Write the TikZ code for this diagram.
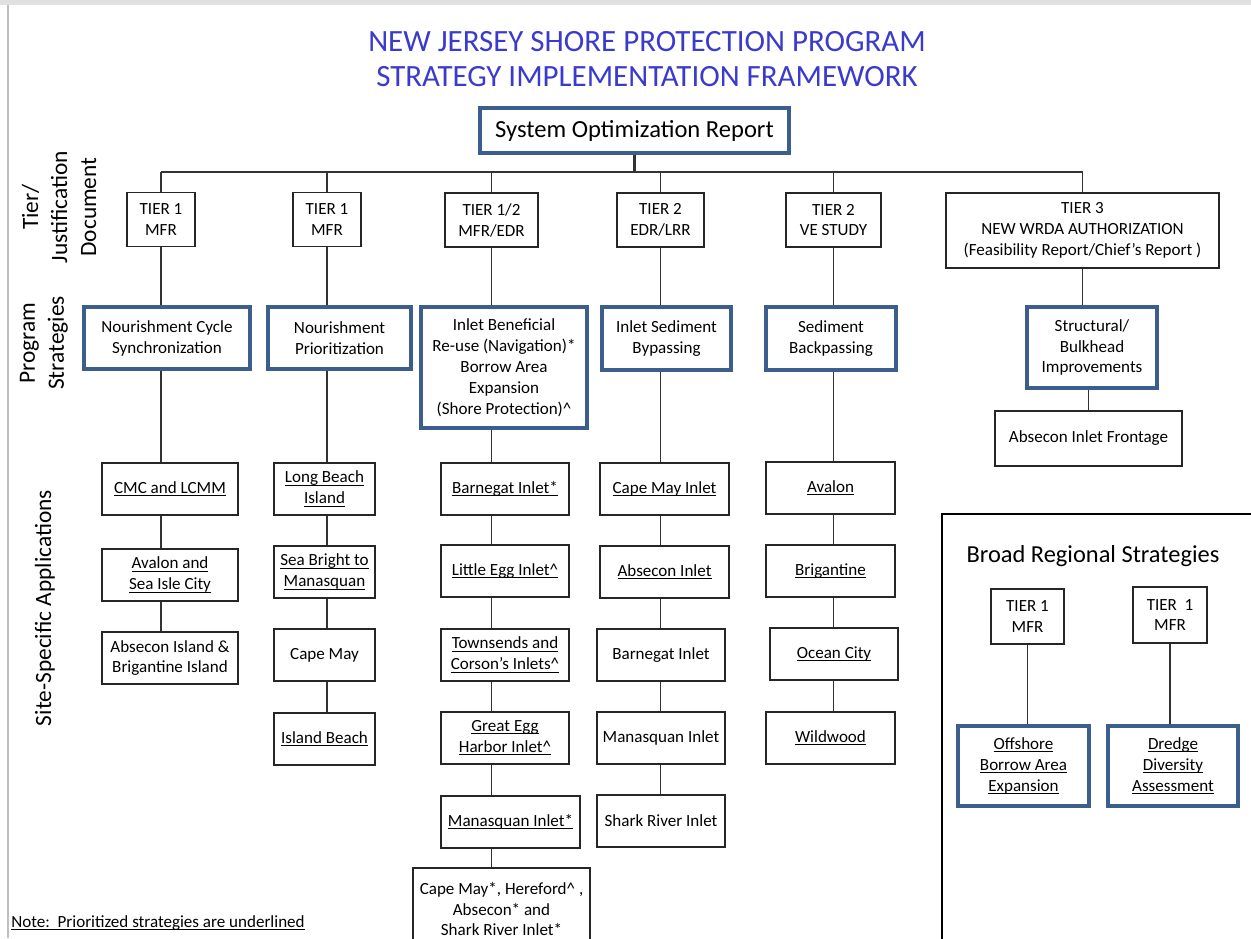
\documentclass[tikz,border=0pt]{standalone}
\usepackage{fontspec}
\setmainfont{Carlito}
\usetikzlibrary{positioning,calc}

\definecolor{titleblue}{RGB}{58,58,204}
\definecolor{stratblue}{RGB}{59,94,140}
\newcommand{\boxfont}{\fontsize{9.7}{11.9}\selectfont}
\newcommand{\titlefont}{\fontsize{17.6}{20.4}\selectfont}
\newcommand{\sorfont}{\fontsize{14}{16}\selectfont}
\newcommand{\sidefont}{\fontsize{13.3}{16.5}\selectfont}
\newcommand{\broadfont}{\fontsize{13.9}{16}\selectfont}
\newcommand{\notefont}{\fontsize{9.7}{11}\selectfont}
% prioritized strategies are underlined
\newcommand{\prio}[1]{\underline{\raisebox{0pt}[\height][0pt]{#1}}}

\begin{document}
\begin{tikzpicture}[
    x=0.02cm, y=-0.02cm,
    font=\boxfont,
    tierbox/.style={draw=black!85, line width=0.75pt, fill=white, align=center, inner sep=2pt, minimum height=1.08cm},
    stratbox/.style={draw=stratblue, line width=2.2pt, fill=white, align=center, inner sep=2pt},
    sitebox/.style={draw=black!85, line width=0.75pt, fill=white, align=center, inner sep=2pt, minimum height=1.04cm},
    sidelabel/.style={rotate=90, align=center, font=\sidefont},
    link/.style={draw=black!80, line width=0.75pt}
]
    \useasboundingbox (0,0) rectangle (1251,938);
    \fill[black!12] (0,0) rectangle (1251,5);
    \draw[black!25, line width=0.8pt] (8,5) -- (8,938);

    % Title
    \node[font=\titlefont, text=titleblue, align=center] (title) at (647,59)
        {NEW JERSEY SHORE PROTECTION PROGRAM\\STRATEGY IMPLEMENTATION FRAMEWORK};
    \node[stratbox, font=\sorfont, minimum width=6.18cm, minimum height=0.9cm] (sor) at (634.5,130.5)
        {System Optimization Report};

    % Side labels
    \node[sidelabel] (lbltier) at (59,207) {Tier/\\Justification\\Document};
    \node[sidelabel] (lblprog) at (44,343) {Program\\Strategies};
    \node[sidelabel] (lblsite) at (45,608) {Site-Specific Applications};

    % Tier / justification documents
    \node[tierbox, minimum width=1.36cm] (t1) at (161,219.5) {TIER 1\\MFR};
    \node[tierbox, minimum width=1.36cm] (t2) at (327,219.5) {TIER 1\\MFR};
    \node[tierbox, minimum width=1.86cm] (t3) at (491.5,220) {TIER 1/2\\MFR/EDR};
    \node[tierbox, minimum width=1.74cm] (t4) at (660.5,220) {TIER 2\\EDR/LRR};
    \node[tierbox, minimum width=1.90cm] (t5) at (833.5,220) {TIER 2\\VE STUDY};
    \node[tierbox, minimum width=5.46cm, minimum height=1.5cm] (t6) at (1082.5,230.5)
        {TIER 3\\NEW WRDA AUTHORIZATION\\(Feasibility Report/Chief’s Report )};

    % Program strategies
    \node[stratbox, minimum width=3.32cm, minimum height=1.24cm] (s1) at (167,338) {Nourishment Cycle\\Synchronization};
    \node[stratbox, minimum width=2.86cm, minimum height=1.24cm] (s2) at (339.5,338) {Nourishment\\Prioritization};
    \node[stratbox, minimum width=3.32cm, minimum height=2.42cm] (s3) at (504,367.5)
        {Inlet Beneficial\\Re-use (Navigation)*\\Borrow Area\\Expansion\\(Shore Protection)\textasciicircum};
    \node[stratbox, minimum width=2.58cm, minimum height=1.26cm] (s4) at (666.5,338.5) {Inlet Sediment\\Bypassing};
    \node[stratbox, minimum width=2.60cm, minimum height=1.26cm] (s5) at (831,338.5) {Sediment\\Backpassing};
    \node[stratbox, minimum width=2.60cm, minimum height=1.62cm] (s6) at (1092,347.5) {Structural/\\Bulkhead\\Improvements};
    \node[sitebox, minimum width=3.74cm, minimum height=1.10cm] (front) at (1088.5,438.5) {Absecon Inlet Frontage};

    % Site-specific applications
    \node[sitebox, minimum width=2.72cm] (c1a) at (170,489) {\prio{CMC and LCMM}};
    \node[sitebox, minimum width=2.72cm] (c1b) at (170,575) {\prio{Avalon and}\\\prio{Sea Isle City}};
    \node[sitebox, minimum width=2.72cm] (c1c) at (170,658) {Absecon Island \&\\Brigantine Island};

    \node[sitebox, minimum width=2.02cm] (c2a) at (324.5,489) {\prio{Long Beach}\\\prio{Island}};
    \node[sitebox, minimum width=2.02cm] (c2b) at (324.5,572) {\prio{Sea Bright to}\\\prio{Manasquan}};
    \node[sitebox, minimum width=2.02cm] (c2c) at (324.5,655) {Cape May};
    \node[sitebox, minimum width=2.02cm] (c2d) at (324.5,739) {\prio{Island Beach}};

    \node[sitebox, minimum width=2.56cm] (c3a) at (505,489) {\prio{Barnegat Inlet*}};
    \node[sitebox, minimum width=2.56cm] (c3b) at (505,571) {\prio{Little Egg Inlet\textasciicircum}};
    \node[sitebox, minimum width=2.56cm] (c3c) at (505,655) {\prio{Townsends and}\\\prio{Corson’s Inlets\textasciicircum}};
    \node[sitebox, minimum width=2.56cm] (c3d) at (505,738) {\prio{Great Egg}\\\prio{Harbor Inlet\textasciicircum}};
    \node[sitebox, minimum width=2.78cm] (c3e) at (510.5,822) {\prio{Manasquan Inlet*}};
    \node[sitebox, minimum width=3.54cm, minimum height=1.64cm] (c3f) at (501.5,909)
        {Cape May*, Hereford\textasciicircum{} ,\\Absecon* and\\Shark River Inlet*};

    \node[sitebox, minimum width=2.58cm] (c4a) at (664.5,489) {\prio{Cape May Inlet}};
    \node[sitebox, minimum width=2.58cm] (c4b) at (664.5,572) {\prio{Absecon Inlet}};
    \node[sitebox, minimum width=2.56cm] (c4c) at (661,655) {Barnegat Inlet};
    \node[sitebox, minimum width=2.56cm] (c4d) at (661,738) {Manasquan Inlet};
    \node[sitebox, minimum width=2.56cm] (c4e) at (661,821) {Shark River Inlet};

    \node[sitebox, minimum width=2.58cm] (c5a) at (830.5,488) {\prio{Avalon}};
    \node[sitebox, minimum width=2.58cm] (c5b) at (830.5,571) {\prio{Brigantine}};
    \node[sitebox, minimum width=2.56cm] (c5c) at (834,654) {\prio{Ocean City}};
    \node[sitebox, minimum width=2.58cm] (c5d) at (830.5,738) {\prio{Wildwood}};

    % Broad regional strategies
    \draw[line width=1.2pt] (942,514) rectangle (1262,950);
    \node[font=\broadfont] (broad) at (1093,556) {Broad Regional Strategies};
    \node[tierbox, minimum width=1.46cm, minimum height=1.10cm] (bt1) at (1027.5,616.5) {TIER 1\\MFR};
    \node[tierbox, minimum width=1.48cm, minimum height=1.12cm] (bt2) at (1170,615) {TIER~~1\\MFR};
    \node[stratbox, minimum width=2.62cm, minimum height=1.60cm] (bs1) at (1023.5,766)
        {\prio{Offshore}\\\prio{Borrow Area}\\\prio{Expansion}};
    \node[stratbox, minimum width=2.60cm, minimum height=1.60cm] (bs2) at (1173,766)
        {\prio{Dredge}\\\prio{Diversity}\\\prio{Assessment}};

    \node[anchor=base west, font=\notefont, inner sep=0pt] (note) at (11,927) {\prio{Note:~~Prioritized strategies are underlined}};

    % Links
    \coordinate (busL) at (t1.north |- 0,172);
    \coordinate (busR) at (t6.north |- 0,172);
    \draw[link] (busL) -- (busR);
    \draw[link, line width=1.2pt] (sor.south) -- (sor.south |- busL);
    \foreach \t in {t1,t2,t3,t4,t5,t6}
        \draw[link] (\t.north) -- (\t.north |- busL);
    \foreach \t/\a/\b in {t1/t1/s1, t1/s1/c1a, t1/c1a/c1b, t1/c1b/c1c,
                          t2/t2/s2, t2/s2/c2a, t2/c2a/c2b, t2/c2b/c2c, t2/c2c/c2d,
                          t3/t3/s3, t3/s3/c3a, t3/c3a/c3b, t3/c3b/c3c, t3/c3c/c3d, t3/c3d/c3e, t3/c3e/c3f,
                          t4/t4/s4, t4/s4/c4a, t4/c4a/c4b, t4/c4b/c4c, t4/c4c/c4d, t4/c4d/c4e,
                          t5/t5/s5, t5/s5/c5a, t5/c5a/c5b, t5/c5b/c5c, t5/c5c/c5d,
                          t6/t6/s6, front/s6/front, bt1/bt1/bs1, bt2/bt2/bs2}
        \draw[link] (\t.south |- \a.south) -- (\t.south |- \b.north);
\end{tikzpicture}
\end{document}
